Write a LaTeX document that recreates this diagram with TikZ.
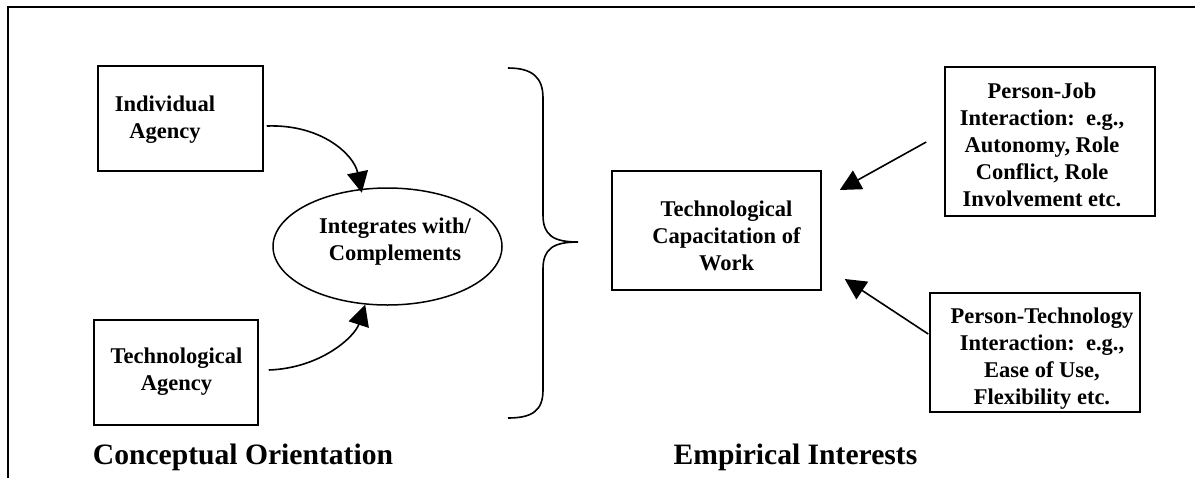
\documentclass[tikz,border=0pt]{standalone}
\usepackage{fontspec}
\setmainfont{Liberation Serif}
\usetikzlibrary{shapes.geometric,arrows.meta,calc}
\begin{document}
\begin{tikzpicture}[x=0.5pt,y=-0.5pt,
  box/.style={draw,line width=0.75pt,inner sep=0pt},
  txt/.style={align=center,font=\fontsize{11.25}{13.5}\selectfont\bfseries,inner sep=0pt},
  ttl/.style={font=\fontsize{14.8}{17}\selectfont\bfseries,inner sep=0pt},
  arr/.style={line width=0.8pt,-{Triangle[length=10.5pt,width=10.5pt]}},
  frame/.style={line width=0.9pt}]
\useasboundingbox (0,0) rectangle (1195,478);
% outer frame
\draw[frame] (8,478) -- (8,7) -- (1195,7);
% left side
\node[box,minimum width=82.5pt,minimum height=52.5pt] (ia) at (180.5,118.5) {};
\node[txt] (iat) at (165,120) {Individual\\Agency};
\node[box,minimum width=82pt,minimum height=52.5pt] (ta) at (176,372.5) {};
\node[txt] (tat) at (176.5,372) {Technological\\Agency};
\node[box,ellipse,minimum width=114.5pt,minimum height=58.5pt] (el) at (387.5,246.5) {};
\node[txt] (elt) at (395,242) {Integrates with/\\Complements};
\draw[arr] ($(ia.east)+(3,7.5)$) .. controls (322,124) and (354,155) .. ($(el.114)+(0,4)$);
\draw[arr] ($(ta.east)+(10,-2.5)$) .. controls (322,368) and (355,336) .. (el.249);
% brace
\draw[line width=0.8pt] (508,68) .. controls (533,68) and (543,78) .. (543,98) -- (543,215)
  .. controls (543,235) and (553,242) .. (578,242)
  .. controls (553,242) and (543,249) .. (543,269) -- (543,390)
  .. controls (543,410) and (533,418) .. (508,418);
% right side
\node[box,minimum width=104.5pt,minimum height=59.5pt] (tc) at (716.5,230.5) {};
\node[txt] (tct) at (726.5,236) {Technological\\Capacitation of\\Work};
\node[box,minimum width=105pt,minimum height=74.5pt] (pj) at (1050,141.5) {};
\node[txt] (pjt) at (1042,145) {Person-Job\\Interaction:\ \ e.g.,\\Autonomy, Role\\Conflict, Role\\Involvement etc.};
\node[box,minimum width=105pt,minimum height=59.5pt] (pt) at (1035,352.5) {};
\node[txt] (ptt) at (1042,359) {Person-Technology\\Interaction:\ \ e.g.,\\Ease of Use,\\Flexibility etc.};
\draw[arr] ($(pj.west)+(-18,0.5)$) -- ($(tc.east)+(18,-40.5)$);
\draw[arr] ($(pt.west)+(-1,-18.5)$) -- ($(tc.east)+(23,48.5)$);
% titles
\node[ttl] (co) at (243,457) {Conceptual Orientation};
\node[ttl] (ei) at (795.5,457) {Empirical Interests};
\end{tikzpicture}
\end{document}
